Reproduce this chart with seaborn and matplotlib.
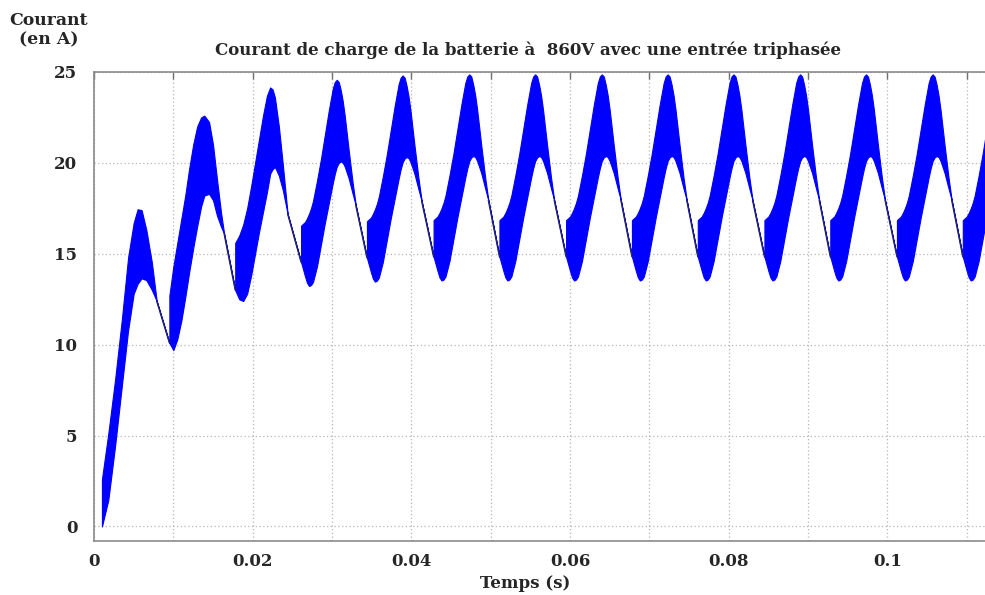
import numpy as np
import pandas as pd
import matplotlib
matplotlib.use("Agg")
import matplotlib.pyplot as plt
import seaborn as sns
from matplotlib.ticker import MultipleLocator, FuncFormatter

# ---- Battery charging current (ripple band: upper / lower envelopes, in A) ----
# Start-up, first half-cycle
P1_T = [0.0010, 0.0010, 0.0018, 0.00265, 0.0035, 0.0043, 0.0050, 0.0055, 0.0060, 0.0066, 0.0073, 0.0079]
P1_UP = [0.0, 2.6, 5.1, 8.05, 11.35, 14.8, 16.7, 17.45, 17.4, 16.3, 14.5, 12.4]
P1_LO = [0.0, 0.0, 1.45, 4.4, 7.7, 10.8, 12.8, 13.35, 13.65, 13.55, 13.0, 12.4]

# Second half-cycle
P2_T = [0.0095, 0.0095, 0.0100, 0.0105, 0.0110, 0.0115, 0.0120, 0.0125, 0.0130,
        0.0135, 0.0139, 0.0145, 0.0150, 0.0155, 0.0160, 0.0164]
P2_UP = [10.1, 12.7, 14.3, 15.6, 16.9, 18.2, 19.7, 21.0, 22.0, 22.5, 22.6, 22.25, 21.0, 19.1, 17.3, 16.1]
P2_LO = [10.1, 10.1, 9.7, 10.3, 11.3, 12.6, 14.0, 15.3, 16.5, 17.6, 18.2, 18.3, 17.95, 17.1, 16.5, 16.1]

# Third half-cycle
P3_T = [0.0178, 0.0178, 0.0183, 0.0188, 0.0193, 0.0198, 0.0203, 0.0208, 0.0213,
        0.0218, 0.0222, 0.0225, 0.0228, 0.0233, 0.0238, 0.0244]
P3_UP = [13.0, 15.6, 16.0, 16.6, 17.5, 18.7, 20.0, 21.3, 22.6, 23.7, 24.15, 24.05, 23.6, 22.0, 19.9, 17.2]
P3_LO = [13.0, 13.0, 12.5, 12.4, 12.8, 13.8, 15.0, 16.2, 17.3, 18.4, 19.4, 19.65, 19.78, 19.3, 18.5, 17.2]

# Steady-state half-cycle, time measured from the switching edge
ST_DT = [0.0, 0.0, 0.0005, 0.00075, 0.0010, 0.00125, 0.0015, 0.0020, 0.0025, 0.0030,
         0.0035, 0.0040, 0.00425, 0.0045, 0.00475, 0.0050, 0.00525, 0.0055, 0.0060,
         0.0065, 0.0069]
ST_UP = [14.84, 16.85, 17.05, 17.25, 17.5, 17.8, 18.2, 19.3, 20.5, 21.85,
         23.2, 24.4, 24.75, 24.87, 24.75, 24.3, 23.7, 22.9, 21.0,
         19.2, 17.95]
ST_LO = [14.84, 14.84, 14.05, 13.7, 13.53, 13.58, 13.75, 14.6, 15.8, 17.0,
         18.1, 19.2, 19.7, 20.1, 20.3, 20.38, 20.32, 20.1, 19.45,
         18.6, 17.95]

# Switching edges of the steady half-cycles and their small level shifts
EDGES = [0.0261, 0.0344, 0.0428, 0.0511, 0.0595, 0.0678, 0.0761, 0.0845, 0.0928, 0.1012, 0.1095]
EDGE_SHIFT = [-0.3, -0.06, 0.0, 0.0, 0.0, 0.0, 0.0, 0.0, 0.0, 0.0, 0.0]

Y_TICKS = [0, 5, 10, 15, 20, 25]

TITLE = "Courant de charge de la batterie à  860V avec une entrée triphasée"
YLABEL = "Courant\n(en A)"
XLABEL = "Temps (s)"

# ---- assemble envelopes ----
t_parts = [np.array(P1_T), np.array(P2_T), np.array(P3_T)]
up_parts = [np.array(P1_UP), np.array(P2_UP), np.array(P3_UP)]
lo_parts = [np.array(P1_LO), np.array(P2_LO), np.array(P3_LO)]
for e, s in zip(EDGES, EDGE_SHIFT):
    t_parts.append(e + np.array(ST_DT))
    up_parts.append(np.array(ST_UP) + s)
    lo_parts.append(np.array(ST_LO) + s)
t = np.concatenate(t_parts)
upper = np.concatenate(up_parts)
lower = np.concatenate(lo_parts)

# thin stretches where the ripple band collapses to a single trace
thin = np.isclose(upper, lower)
rows = []
seg = 0
for i in range(len(t) - 1):
    if thin[i] and thin[i + 1]:
        rows.append((seg, t[i], lower[i]))
        rows.append((seg, t[i + 1], lower[i + 1]))
        seg += 1
thin_df = pd.DataFrame(rows, columns=["seg", "t", "i"])

# ---- figure ----
sns.set_style("white")
plt.rcParams["font.family"] = ["DejaVu Serif"]
plt.rcParams["font.weight"] = "bold"

W, H = 985, 595
fig = plt.figure(figsize=(W / 100, H / 100), dpi=100)
ax = fig.add_axes([94 / W, 1 - 541 / H, 1 - 94 / W, (541 - 72) / H])

BLUE = "#0000ff"
ax.fill_between(t, lower, upper, color=BLUE, linewidth=0.8, edgecolor=BLUE, zorder=3)
sns.lineplot(data=thin_df, x="t", y="i", units="seg", estimator=None,
             color="#2a2a5a", linewidth=1.0, ax=ax, zorder=4)

ax.set_xlim(0, 0.1123)
ax.set_ylim(-0.8, 25)
ax.xaxis.set_major_locator(MultipleLocator(0.01))
ax.xaxis.set_major_formatter(FuncFormatter(
    lambda v, p: (f"{v:g}" if round(v / 0.01) % 2 == 0 else "")))
ax.set_yticks(Y_TICKS)
ax.set_xlabel("")
ax.set_ylabel("")

ax.grid(True, linestyle=(0, (1, 2)), color="#b5b5b5", linewidth=0.9)
ax.set_axisbelow(True)
for side in ("left", "bottom", "top"):
    ax.spines[side].set_color("#8a8a8a")
    ax.spines[side].set_linewidth(1.2)
ax.spines["right"].set_visible(False)

ax.tick_params(axis="both", which="both", direction="in", length=5, width=1,
               color="#707070", labelsize=12, top=True, labeltop=False, right=False)
ax.tick_params(axis="x", pad=9)
ax.tick_params(axis="y", pad=12)
for lab in ax.get_xticklabels() + ax.get_yticklabels():
    lab.set_fontweight("bold")

fig.text(528 / W, 1 - 50 / H, TITLE, ha="center", va="center", fontsize=12, fontweight="bold")
fig.text(49 / W, 1 - 30 / H, YLABEL, ha="center", va="center", fontsize=12.4,
         fontweight="bold", linespacing=1.2)
fig.text(525 / W, 1 - 583 / H, XLABEL, ha="center", va="center", fontsize=12, fontweight="bold")

fig.savefig("out.png", dpi=100)
